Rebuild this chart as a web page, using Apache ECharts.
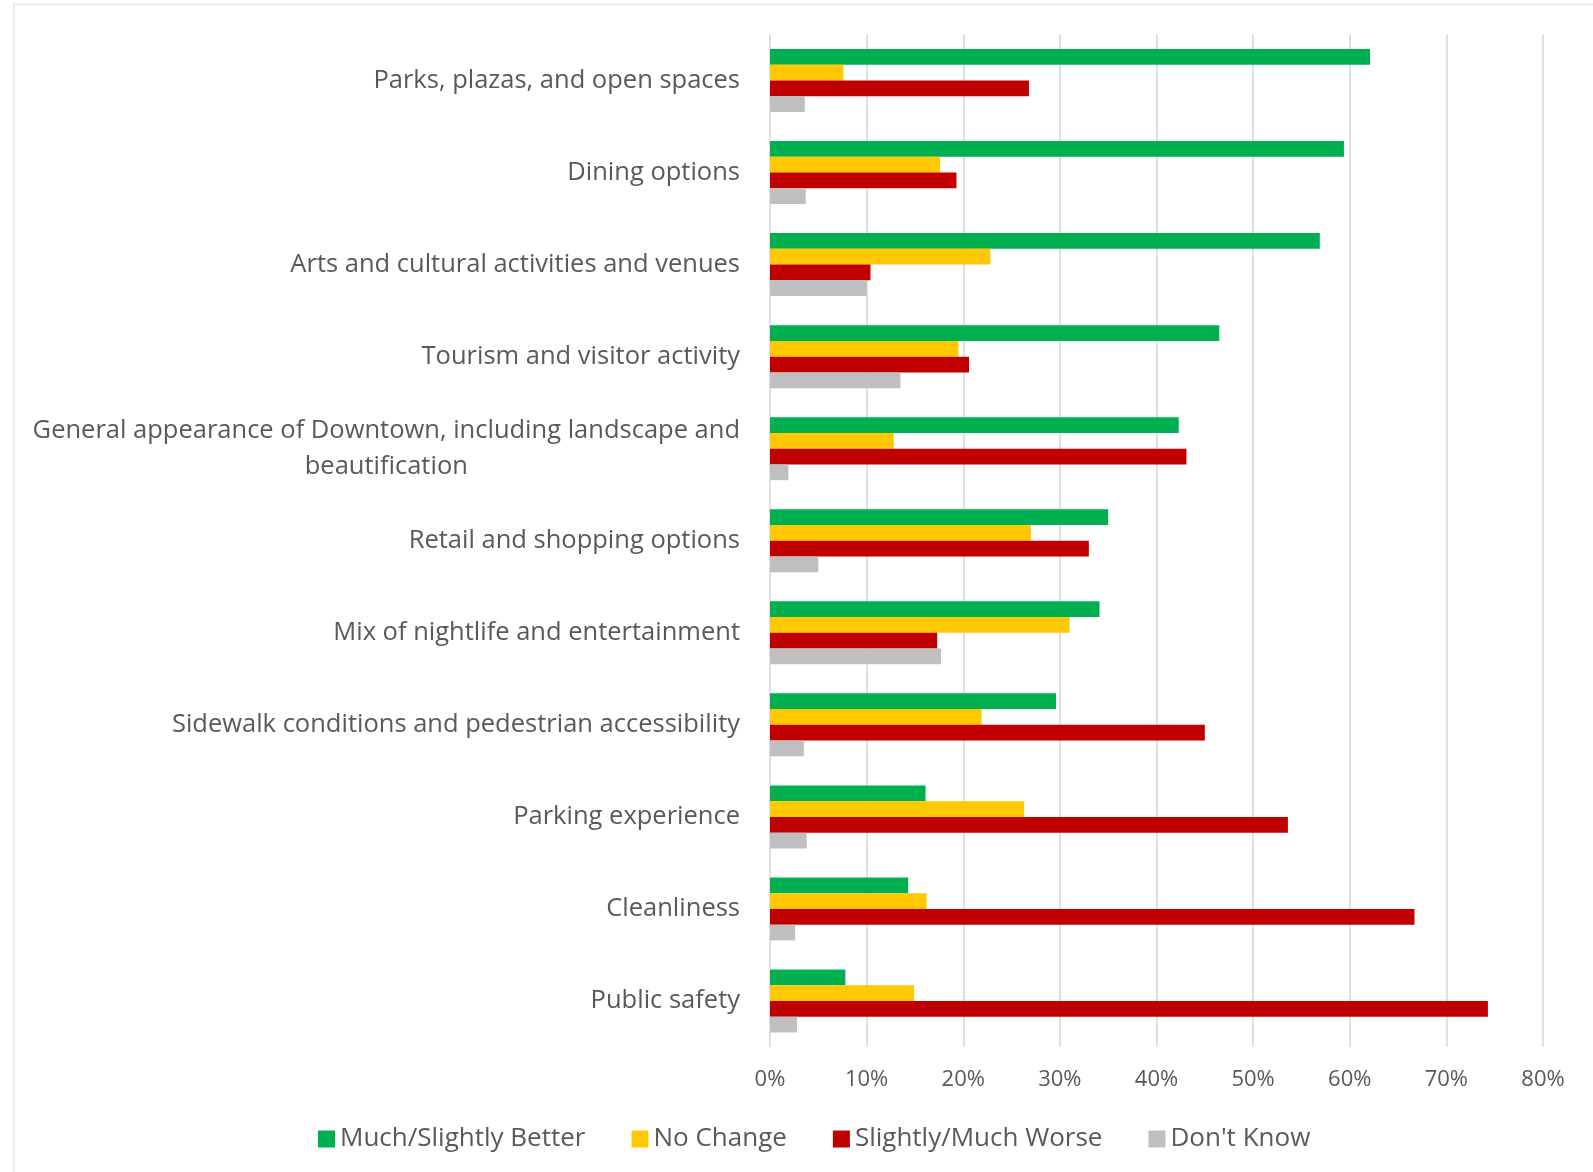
<!DOCTYPE html>
<html>
<head>
<meta charset="utf-8">
<title>Downtown perceptions</title>
<script src="https://cdn.jsdelivr.net/npm/echarts@6/dist/echarts.min.js"></script>
<style>
  html, body { margin: 0; padding: 0; background: #ffffff; }
  #chart { width: 1593px; height: 1172px; }
</style>
</head>
<body>
<div id="chart"></div>
<script>
// Survey topics, top to bottom
const categories = [
  'Parks, plazas, and open spaces',
  'Dining options',
  'Arts and cultural activities and venues',
  'Tourism and visitor activity',
  'General appearance of Downtown, including landscape and\nbeautification',
  'Retail and shopping options',
  'Mix of nightlife and entertainment',
  'Sidewalk conditions and pedestrian accessibility',
  'Parking experience',
  'Cleanliness',
  'Public safety'
];

// Share of responses (%) per topic
const better   = [62.1, 59.4, 56.9, 46.5, 42.3, 35.0, 34.1, 29.6, 16.1, 14.3, 7.8];
const noChange = [7.6, 17.6, 22.8, 19.5, 12.8, 27.0, 31.0, 21.9, 26.3, 16.2, 14.9];
const worse    = [26.8, 19.3, 10.4, 20.6, 43.1, 33.0, 17.3, 45.0, 53.6, 66.7, 74.3];
const dontKnow = [3.6, 3.7, 10.0, 13.5, 1.9, 5.0, 17.7, 3.5, 3.8, 2.6, 2.8];

const seriesNames = ['Much/Slightly Better', 'No Change', 'Slightly/Much Worse', "Don't Know"];
const seriesColors = ['#00B050', '#FFC800', '#C00000', '#BFBFBF'];
const seriesData = [better, noChange, worse, dontKnow];

// x-axis ticks
const xTicks = [0, 10, 20, 30, 40, 50, 60, 70, 80];

const textColor = '#595959';
const fontFamily = '"Open Sans", "Noto Sans", sans-serif';

const chart = echarts.init(document.getElementById('chart'), null, { renderer: 'canvas' });

chart.setOption({
  backgroundColor: '#ffffff',
  animation: false,
  textStyle: { fontFamily: fontFamily, color: textColor },
  graphic: [{
    type: 'rect',
    silent: true,
    shape: { x: 14, y: 4.5, width: 1590, height: 1200 },
    style: { fill: 'none', stroke: '#ececec', lineWidth: 2 }
  }],
  grid: {
    left: 770,
    right: 50,
    top: 34.5,
    bottom: 125,
    containLabel: false,
    outerBoundsMode: 'none'
  },
  legend: {
    bottom: 15,
    left: 313,
    itemWidth: 17,
    itemHeight: 17,
    itemGap: 46,
    icon: 'rect',
    data: seriesNames,
    textStyle: {
      fontFamily: fontFamily,
      fontSize: 26,
      color: textColor
    }
  },
  xAxis: {
    type: 'value',
    min: xTicks[0],
    max: xTicks[xTicks.length - 1],
    interval: 10,
    axisLine: { show: false },
    axisTick: { show: false },
    splitLine: { show: true, lineStyle: { color: '#d6d6d6', width: 1.5 } },
    axisLabel: {
      margin: 22,
      fontSize: 22,
      color: textColor,
      fontFamily: fontFamily,
      formatter: function (v) { return v + '%'; }
    }
  },
  yAxis: {
    type: 'category',
    inverse: true,
    data: categories,
    axisLine: { show: false },
    axisTick: { show: false },
    splitLine: { show: false },
    axisLabel: {
      margin: 30,
      fontSize: 25.5,
      color: textColor,
      fontFamily: fontFamily,
      lineHeight: 36,
      formatter: function (v) {
        if (v.indexOf('\n') >= 0) {
          const parts = v.split('\n');
          return parts.map(function (p) { return '{c|' + p + '}'; }).join('\n');
        }
        return v;
      },
      rich: {
        c: { align: 'center', fontSize: 25.5, color: textColor, fontFamily: fontFamily, lineHeight: 36 }
      }
    }
  },
  series: seriesNames.map(function (name, i) {
    return {
      name: name,
      type: 'bar',
      data: seriesData[i],
      barWidth: 15.75,
      barGap: '0%',
      itemStyle: { color: seriesColors[i] },
      emphasis: { disabled: true }
    };
  })
});
</script>
</body>
</html>
